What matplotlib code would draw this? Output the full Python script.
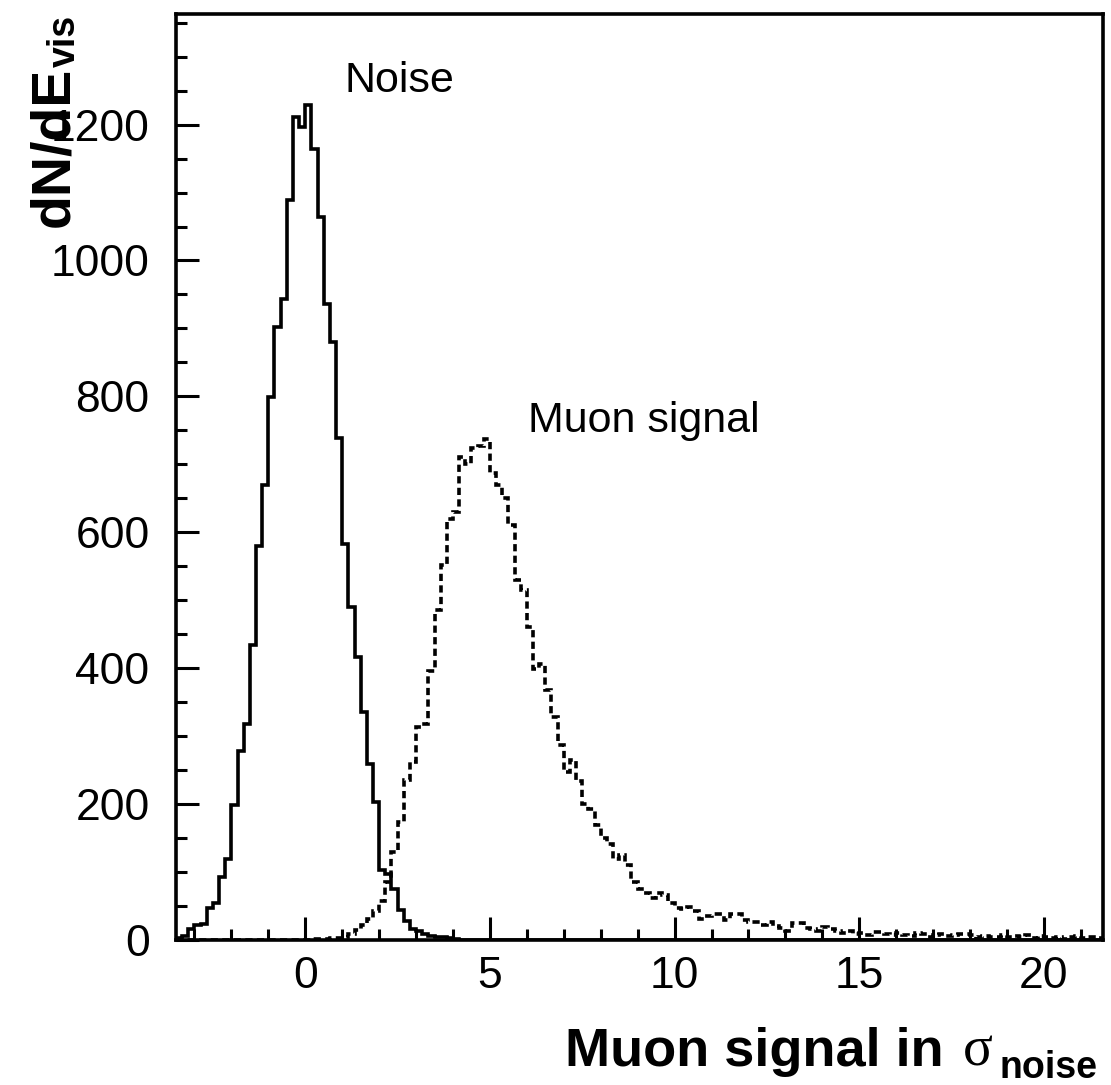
import numpy as np
import matplotlib
matplotlib.use("Agg")
from matplotlib import pyplot as plt
from matplotlib.ticker import MultipleLocator

plt.rcParams['font.family'] = ['Liberation Sans', 'DejaVu Sans']

# bins are 1/6 sigma wide, starting at -3.5
bin_edges = np.arange(-21, 131) / 6.0

# noise distribution, one value per bin (151 bins)
noise_counts = [
    2, 5, 15, 22, 23, 46, 54, 92, 118, 198,
    278, 318, 433, 580, 669, 799, 902, 944, 1089, 1211,
    1197, 1229, 1164, 1064, 936, 880, 738, 582, 490, 416,
    335, 259, 203, 102, 97, 74, 44, 27, 16, 12,
    8, 5, 4, 3, 2, 1, 0, 0, 0, 0,
    0, 0, 0, 0, 0, 0, 0, 0, 0, 0,
    0, 0, 0, 0, 0, 0, 0, 0, 0, 0,
    0, 0, 0, 0, 0, 0, 0, 0, 0, 0,
    0, 0, 0, 0, 0, 0, 0, 0, 0, 0,
    0, 0, 0, 0, 0, 0, 0, 0, 0, 0,
    0, 0, 0, 0, 0, 0, 0, 0, 0, 0,
    0, 0, 0, 0, 0, 0, 0, 0, 0, 0,
    0, 0, 0, 0, 0, 0, 0, 0, 0, 0,
    0, 0, 0, 0, 0, 0, 0, 0, 0, 0,
    0, 0, 0, 0, 0, 0, 0, 0, 0, 0,
    0,
]

# muon signal distribution
muon_counts = [
    0, 0, 0, 0, 0, 0, 0, 0, 0, 0,
    0, 0, 0, 0, 0, 0, 0, 0, 0, 0,
    0, 0, 1, 1, 1, 2, 2, 4, 8, 14,
    22, 30, 42, 56, 85, 129, 173, 235, 262, 313,
    318, 395, 485, 551, 619, 630, 711, 700, 724, 727,
    737, 687, 669, 650, 610, 530, 515, 460, 398, 405,
    367, 328, 286, 247, 264, 233, 200, 192, 169, 150,
    141, 118, 124, 110, 84, 75, 69, 61, 68, 66,
    54, 47, 45, 48, 42, 30, 34, 38, 38, 29,
    37, 37, 28, 26, 26, 22, 26, 20, 17, 12,
    25, 25, 17, 15, 12, 18, 16, 12, 10, 12,
    8, 10, 6, 11, 11, 8, 6, 9, 7, 5,
    9, 8, 4, 6, 8, 5, 7, 8, 8, 6,
    3, 5, 4, 3, 7, 3, 5, 4, 6, 2,
    5, 3, 2, 4, 1, 3, 5, 2, 4, 3,
    2,
]

W, H = 1111, 1085


def px(x, y):
    # pixel position (from top left) -> figure fraction
    return x / W, 1 - y / H


fig = plt.figure(figsize=(W / 100, H / 100), dpi=100)
ax = fig.add_axes([176 / W, 1 - 939.5 / H, (1103 - 176) / W, (939.5 - 14) / H])

ax.stairs(noise_counts, bin_edges, color='black', lw=2.6)
ax.stairs(muon_counts, bin_edges, color='black', lw=2.6,
          linestyle=(0, (2.0, 1.2)))

ax.set_xlim(-3.5, 21.6)
ax.set_ylim(0, 1363)

ax.xaxis.set_major_locator(MultipleLocator(5))
ax.xaxis.set_minor_locator(MultipleLocator(1))
ax.yaxis.set_major_locator(MultipleLocator(200))
ax.yaxis.set_minor_locator(MultipleLocator(50))
ax.tick_params(which='both', direction='in', top=False, right=False,
               width=2.2, labelsize=32)
ax.tick_params(which='major', length=16.5)
ax.tick_params(which='minor', length=8)
ax.tick_params(axis='x', pad=12)
ax.tick_params(axis='y', pad=19)
for s in ax.spines.values():
    s.set_linewidth(2.6)

ax.text(1.05, 1248, 'Noise', fontsize=31, va='baseline')
ax.text(6.03, 747, 'Muon signal', fontsize=31, va='baseline')

# x title
fig.text(*px(565, 1066), 'Muon signal in', fontsize=39, fontweight='bold',
         va='baseline')
fig.text(*px(963, 1066), 'σ', fontsize=40, family='Liberation Serif',
         va='baseline')
fig.text(*px(1000, 1078), 'noise', fontsize=27, fontweight='bold',
         va='baseline')

# y title
fig.text(*px(68, 227), 'dN/dE', fontsize=40, fontweight='bold', rotation=90,
         rotation_mode='anchor', ha='left', va='baseline')
fig.text(*px(75, 67), 'vis', fontsize=27, fontweight='bold', rotation=90,
         rotation_mode='anchor', ha='left', va='baseline')

fig.savefig('out.png', dpi=100)
